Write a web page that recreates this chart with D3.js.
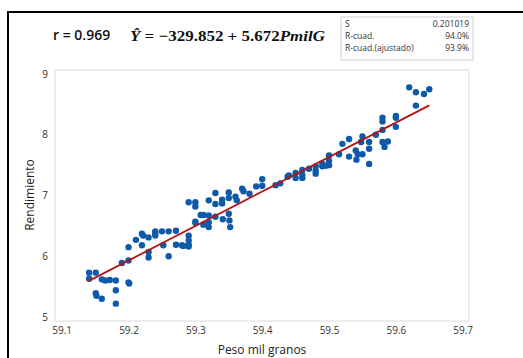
<!DOCTYPE html>
<html>
<head>
<meta charset="utf-8">
<script src="https://cdn.jsdelivr.net/npm/d3@7"></script>
<style>
  body { margin: 0; background: #fff; }
  svg { display: block; font-family: "Open Sans", "Noto Sans", sans-serif; }
</style>
</head>
<body>
<div id="container"></div>
<script>
// Peso mil granos (x) vs Rendimiento (y)
const pesoMil = [
  59.141, 59.141, 59.151, 59.151, 59.152, 59.160, 59.160, 59.165, 59.172, 59.181,
  59.181, 59.181, 59.200, 59.201, 59.190, 59.200, 59.200, 59.211, 59.220, 59.222,
  59.220, 59.230, 59.230, 59.230, 59.240, 59.240, 59.250, 59.240, 59.252, 59.260,
  59.260, 59.271, 59.271, 59.280, 59.282, 59.290, 59.290, 59.290, 59.290, 59.290,
  59.300, 59.300, 59.300, 59.300, 59.308, 59.312, 59.312, 59.320, 59.320, 59.320,
  59.320, 59.330, 59.330, 59.330, 59.340, 59.340, 59.341, 59.350, 59.350, 59.350,
  59.351, 59.352, 59.360, 59.362, 59.370, 59.372, 59.381, 59.391, 59.400, 59.400,
  59.420, 59.427, 59.438, 59.440, 59.450, 59.450, 59.460, 59.460, 59.460, 59.470,
  59.480, 59.480, 59.480, 59.490, 59.490, 59.495, 59.500, 59.500, 59.500, 59.515,
  59.520, 59.530, 59.530, 59.540, 59.543, 59.541, 59.550, 59.548, 59.550, 59.560,
  59.560, 59.560, 59.570, 59.580, 59.580, 59.580, 59.580, 59.583, 59.588, 59.600,
  59.600, 59.600, 59.620, 59.630, 59.630, 59.642, 59.650
];
const rendimiento = [
  5.73, 5.63, 5.73, 5.39, 5.35, 5.30, 5.62, 5.60, 5.61, 5.60,
  5.44, 5.22, 5.57, 5.55, 5.89, 5.93, 6.15, 6.27, 6.37, 6.34,
  6.18, 6.31, 6.07, 5.98, 6.41, 6.34, 6.41, 6.37, 6.18, 6.41,
  6.00, 6.42, 6.19, 6.18, 6.17, 6.89, 6.34, 6.26, 6.19, 6.16,
  6.89, 6.82, 6.55, 6.57, 6.68, 6.68, 6.52, 6.67, 6.56, 6.48,
  6.92, 7.04, 6.86, 6.65, 6.93, 6.87, 6.61, 7.05, 6.96, 6.70,
  6.59, 6.48, 6.98, 6.92, 7.11, 7.07, 7.03, 7.15, 7.27, 7.16,
  7.17, 7.20, 7.31, 7.33, 7.37, 7.29, 7.42, 7.34, 7.29, 7.44,
  7.48, 7.41, 7.36, 7.48, 7.52, 7.49, 7.50, 7.57, 7.66, 7.68,
  7.85, 7.93, 7.64, 7.74, 7.68, 7.59, 7.97, 7.88, 7.68, 7.88,
  7.77, 7.52, 8.00, 8.28, 8.22, 8.08, 7.88, 7.80, 7.89, 8.31,
  8.28, 8.13, 8.78, 8.70, 8.48, 8.67, 8.75
];
const xTicks = [59.1, 59.2, 59.3, 59.4, 59.5, 59.6, 59.7];
const yTicks = [5, 6, 7, 8, 9];
const intercept = -329.852;
const slope = 5.672;
const fitRange = [59.14, 59.65];
const statLabels = ["S", "R-cuad.", "R-cuad.(ajustado)"];
const statValues = ["0.201019", "94.0%", "93.9%"];

const width = 523, height = 358;
const svg = d3.select("#container").append("svg")
  .attr("width", width).attr("height", height);

// outer black frame (cropped box)
svg.append("path")
  .attr("d", "M8,358 L8,12 L523,12")
  .attr("fill", "none").attr("stroke", "#000").attr("stroke-width", 2);

const x = d3.scaleLinear().domain([59.1, 59.7]).range([61.7, 462.7]);
const y = d3.scaleLinear().domain([5, 9]).range([317, 74]);

// plot frame
svg.append("rect")
  .attr("x", 55).attr("y", 70).attr("width", 414).attr("height", 251)
  .attr("fill", "none").attr("stroke", "#dcdcdc").attr("stroke-width", 1);

const xAxis = d3.axisBottom(x).tickValues(xTicks).tickSize(0).tickPadding(6)
  .tickFormat(d3.format(".1f"));
svg.append("g").attr("transform", "translate(0,321)").call(xAxis)
  .call(g => g.select(".domain").remove())
  .selectAll("text").attr("font-size", 10).attr("fill", "#333")
  .attr("font-family", "Open Sans, sans-serif");

const yAxis = d3.axisLeft(y).tickValues(yTicks).tickSize(0).tickPadding(7)
  .tickFormat(d3.format("d"));
svg.append("g").attr("transform", "translate(55,0)").call(yAxis)
  .call(g => g.select(".domain").remove())
  .selectAll("text").attr("font-size", 10).attr("fill", "#333")
  .attr("font-family", "Open Sans, sans-serif");

// points
svg.append("g").selectAll("circle")
  .data(pesoMil.map((d, i) => [d, rendimiento[i]]))
  .enter().append("circle")
  .attr("cx", d => x(d[0]))
  .attr("cy", d => y(d[1]))
  .attr("r", 3.2)
  .attr("fill", "#0f5aa8");

// fitted line
const line = d3.line().x(d => x(d)).y(d => y(intercept + slope * d));
svg.append("path")
  .datum(fitRange)
  .attr("d", line)
  .attr("fill", "none").attr("stroke", "#b41414").attr("stroke-width", 1.8);

// axis titles
svg.append("text")
  .attr("x", 262).attr("y", 354).attr("text-anchor", "middle")
  .attr("font-size", 12).attr("fill", "#222").text("Peso mil granos");
svg.append("text")
  .attr("transform", "translate(34,195) rotate(-90)")
  .attr("text-anchor", "middle")
  .attr("font-size", 12).attr("fill", "#222").text("Rendimiento");

// r and equation
svg.append("text")
  .attr("x", 53).attr("y", 40)
  .attr("font-size", 14).attr("font-weight", 600).attr("fill", "#111")
  .text("r = 0.969");
const eq = svg.append("text")
  .attr("x", 130).attr("y", 41)
  .attr("font-family", "Liberation Serif, DejaVu Serif, serif")
  .attr("font-weight", "bold").attr("font-size", 15).attr("fill", "#111")
  .attr("textLength", 195).attr("lengthAdjust", "spacingAndGlyphs");
eq.append("tspan").attr("font-style", "italic").text("Ŷ");
eq.append("tspan").text(" =  \u2212329.852 + 5.672");
eq.append("tspan").attr("font-style", "italic").text("PmilG");

// statistics box
svg.append("rect")
  .attr("x", 341).attr("y", 17).attr("width", 132).attr("height", 43)
  .attr("fill", "#fff").attr("stroke", "#cfcfcf").attr("stroke-width", 1);
const stats = svg.append("g").attr("font-size", 8.5).attr("fill", "#333");
stats.selectAll(".lab").data(statLabels).enter().append("text")
  .attr("x", 345).attr("y", (d, i) => 26.5 + i * 12).text(d => d);
stats.selectAll(".val").data(statValues).enter().append("text")
  .attr("x", 469).attr("y", (d, i) => 26.5 + i * 12)
  .attr("text-anchor", "end").text(d => d);
</script>
</body>
</html>
